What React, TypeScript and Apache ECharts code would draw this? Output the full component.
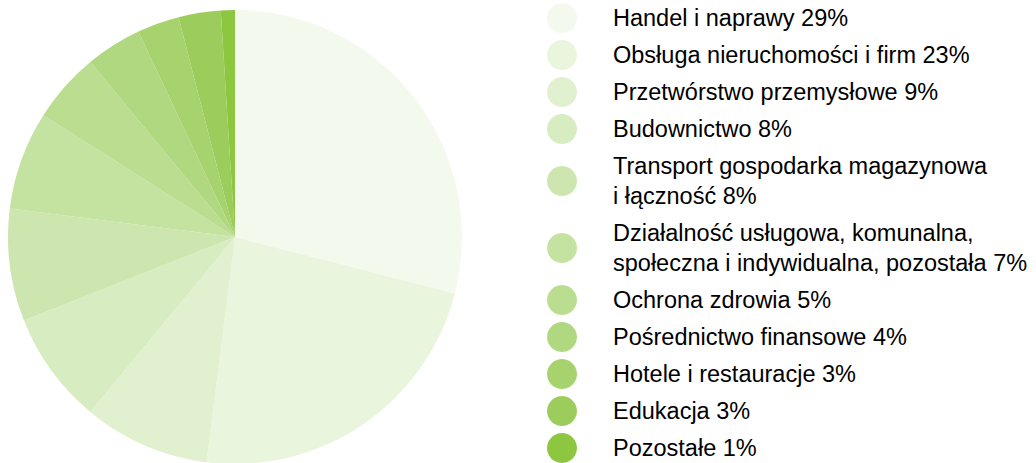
import React, { useEffect, useRef } from "react";
import * as echarts from "echarts";

const categories = [
  "Handel i naprawy",
  "Obsługa nieruchomości i firm",
  "Przetwórstwo przemysłowe",
  "Budownictwo",
  "Transport gospodarka magazynowa\ni łączność",
  "Działalność usługowa, komunalna,\nspołeczna i indywidualna, pozostała",
  "Ochrona zdrowia",
  "Pośrednictwo finansowe",
  "Hotele i restauracje",
  "Edukacja",
  "Pozostałe",
];
const values = [29, 23, 9, 8, 8, 7, 5, 4, 3, 3, 1];
const colors = [
  "#f3f9ed",
  "#eaf5dd",
  "#e1f0cf",
  "#d8ecc1",
  "#cde6b0",
  "#c4e2a0",
  "#bbdd90",
  "#b0d880",
  "#a6d36e",
  "#9ccd5c",
  "#8dc63f",
];

export default function App() {
  const ref = useRef<HTMLDivElement>(null);
  useEffect(() => {
    document.body.style.margin = "0";
    const chart = echarts.init(ref.current!, null, { renderer: "svg" });
    const valueByName: Record<string, number> = {};
    categories.forEach((c, i) => (valueByName[c] = values[i]));
    chart.setOption({
      animation: false,
      legend: {
        type: "plain",
        orient: "vertical",
        left: 547,
        top: 3,
        height: 600,
        padding: 0,
        icon: "circle",
        itemWidth: 30,
        itemHeight: 30,
        itemGap: 7,
        selectedMode: false,
        formatter: (name: string) => `${name} ${valueByName[name]}%`,
        textStyle: {
          fontSize: 23.5,
          lineHeight: 30,
          color: "#000",
          fontFamily: "'Liberation Sans', Arial, sans-serif",
          padding: [0, 0, 0, 31],
        },
      },
      series: [
        {
          type: "pie",
          center: [235, 237],
          radius: 227,
          startAngle: 90,
          clockwise: true,
          label: { show: false },
          labelLine: { show: false },
          emphasis: { disabled: true },
          data: categories.map((c, i) => ({
            name: c,
            value: values[i],
            itemStyle: { color: colors[i] },
          })),
        },
      ],
    });
    return () => chart.dispose();
  }, []);
  return <div ref={ref} style={{ width: 1036, height: 463 }} />;
}
